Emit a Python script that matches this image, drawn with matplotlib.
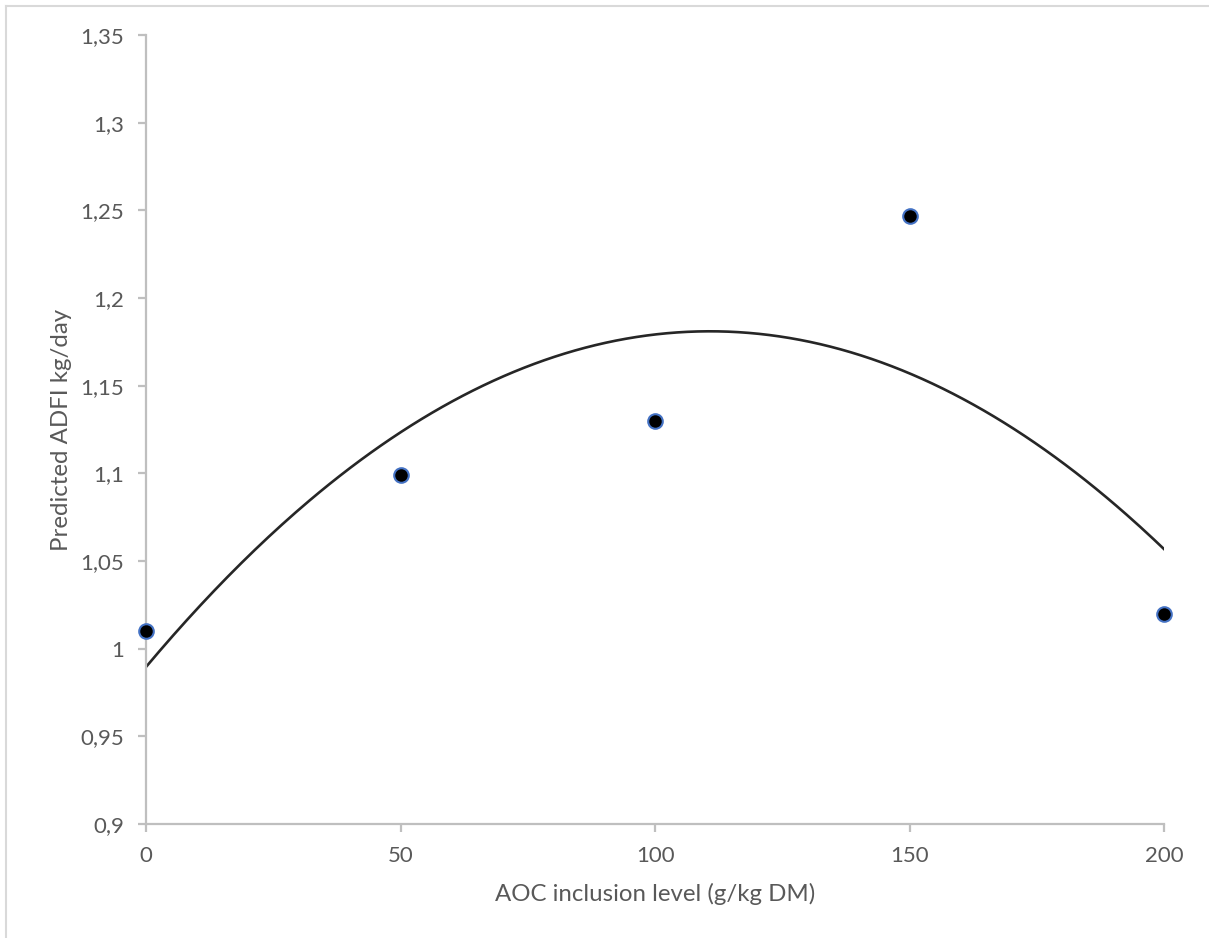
import numpy as np
import matplotlib.pyplot as plt
from matplotlib.lines import Line2D

# --- Data ---
aoc_level = [0, 50, 100, 150, 200]
adfi = [1.010, 1.099, 1.130, 1.247, 1.020]
y_ticks = [0.9, 0.95, 1.0, 1.05, 1.1, 1.15, 1.2, 1.25, 1.3, 1.35]
y_tick_labels = ['0,9', '0,95', '1', '1,05', '1,1', '1,15', '1,2', '1,25', '1,3', '1,35']
x_ticks = [0, 50, 100, 150, 200]

plt.rcParams['font.family'] = ['Lato', 'DejaVu Sans']

grey = '#BFBFBF'
text_col = '#595959'

fig = plt.figure(figsize=(12.09, 9.38), dpi=100)
ax = fig.add_axes([0.1208, 0.1215, 0.842, 0.8412])

# polynomial (order 2) trendline, like the spreadsheet one
coef = np.polyfit(aoc_level, adfi, 2)
xs = np.linspace(min(aoc_level), max(aoc_level), 300)
ax.plot(xs, np.polyval(coef, xs), color='#262626', lw=1.9, zorder=2)

ax.plot(aoc_level, adfi, 'o', color='black', markeredgecolor='#4472C4',
        markersize=10.5, markeredgewidth=1.5, zorder=3, clip_on=False)

ax.set_xlim(0, 200)
ax.set_ylim(0.9, 1.35)
ax.set_xticks(x_ticks)
ax.set_yticks(y_ticks)
ax.set_yticklabels(y_tick_labels)

for side in ['top', 'right']:
    ax.spines[side].set_visible(False)
for side in ['left', 'bottom']:
    ax.spines[side].set_color(grey)
    ax.spines[side].set_linewidth(1.6)

ax.tick_params(axis='both', colors=grey, width=1.6, length=6,
               labelcolor=text_col, labelsize=16, pad=10)

ax.set_xlabel('AOC inclusion level (g/kg DM)', fontsize=17.3, color=text_col, labelpad=12)
ax.set_ylabel('Predicted ADFI kg/day', fontsize=17.3, color=text_col, labelpad=6)

# chart area border (only left/top visible in the source crop)
fig.add_artist(Line2D([0.005, 0.005], [0, 0.994], color='#D9D9D9', lw=1.5))
fig.add_artist(Line2D([0.005, 1.0], [0.994, 0.994], color='#D9D9D9', lw=1.5))

fig.savefig('out.png', dpi=100, facecolor='white')
